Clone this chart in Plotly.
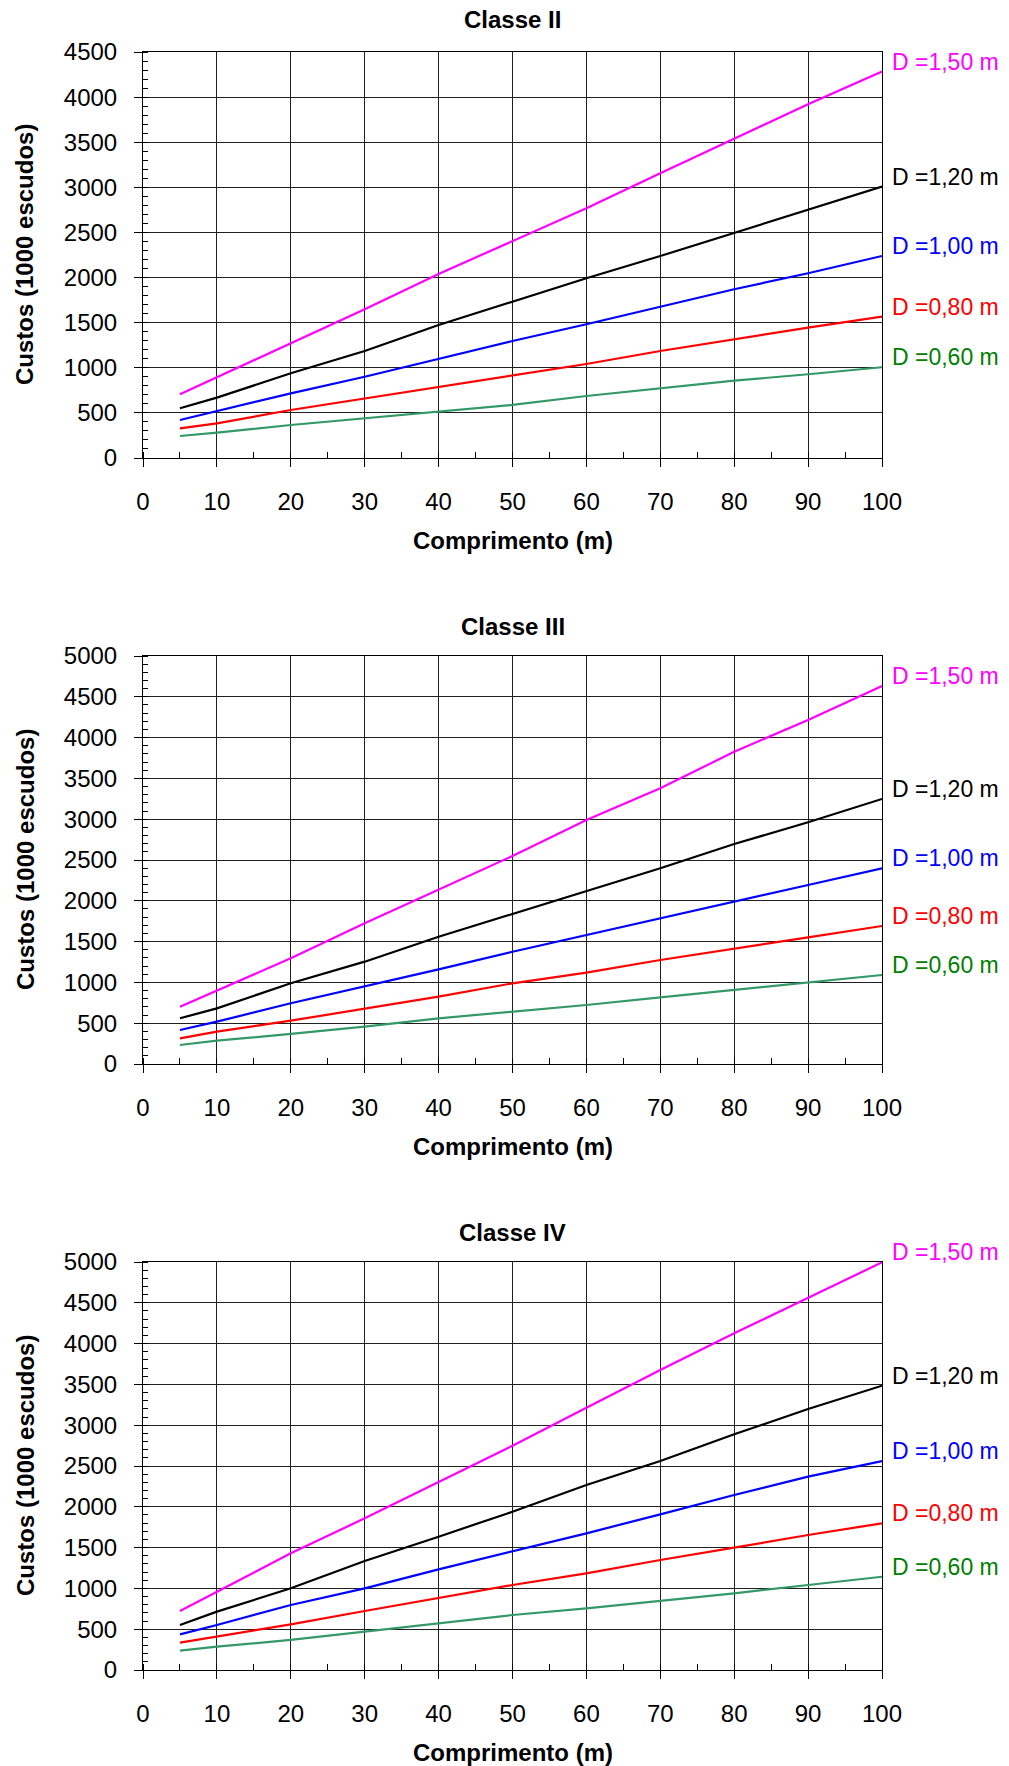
import plotly.graph_objects as go

# ---------------- data ----------------
comprimento = [5, 10, 20, 30, 40, 50, 60, 70, 80, 90, 100]

classes = ["Classe II", "Classe III", "Classe IV"]
y_max = [4500, 5000, 5000]

series_names = ["D =1,50 m", "D =1,20 m", "D =1,00 m", "D =0,80 m", "D =0,60 m"]

classe_ii = [
    [706, 894, 1271, 1648, 2040, 2406, 2768, 3156, 3537, 3921, 4283],
    [551, 669, 939, 1186, 1474, 1733, 1992, 2239, 2498, 2757, 3008],
    [421, 521, 717, 901, 1097, 1297, 1482, 1677, 1870, 2048, 2239],
    [329, 384, 532, 661, 791, 920, 1042, 1186, 1319, 1445, 1567],
    [244, 281, 366, 440, 514, 588, 687, 769, 857, 928, 1006],
]
classe_iii = [
    [702, 898, 1295, 1724, 2141, 2549, 2990, 3378, 3827, 4216, 4632],
    [560, 682, 989, 1254, 1560, 1838, 2112, 2398, 2696, 2962, 3248],
    [417, 519, 744, 948, 1160, 1376, 1581, 1793, 1989, 2194, 2398],
    [315, 396, 531, 682, 825, 989, 1119, 1275, 1409, 1552, 1691],
    [233, 286, 368, 457, 560, 641, 723, 817, 907, 996, 1091],
]
classe_iv = [
    [723, 960, 1430, 1859, 2308, 2749, 3215, 3677, 4126, 4563, 4996],
    [551, 715, 1001, 1336, 1634, 1940, 2267, 2561, 2888, 3199, 3484],
    [437, 551, 797, 1001, 1234, 1450, 1675, 1908, 2145, 2369, 2561],
    [335, 408, 560, 723, 879, 1042, 1185, 1348, 1499, 1654, 1798],
    [237, 286, 368, 469, 572, 674, 756, 846, 940, 1042, 1143],
]
all_data = [classe_ii, classe_iii, classe_iv]

line_colors = ["#FF00FF", "#000000", "#0000FF", "#FF0000", "#339966"]
label_colors = ["#FF00FF", "#000000", "#0000FF", "#FF0000", "#008000"]

x_title = "Comprimento (m)"
y_title = "Custos (1000 escudos)"

# ---------------- layout geometry (pixels) ----------------
W, H = 1009, 1766
x_left, x_right = 143, 882
plot_tops = [52, 656, 1262]
plot_bottoms = [458, 1064, 1670]
title_y = [19, 626, 1232]

FONT = "Liberation Sans, Arial, sans-serif"


def px(v):
    return v / W


def py(v):
    return 1 - v / H


fig = go.Figure()
annotations = []

for i, data in enumerate(all_data):
    xa = "x" if i == 0 else f"x{i+1}"
    ya = "y" if i == 0 else f"y{i+1}"
    for s, vals in enumerate(data):
        fig.add_trace(go.Scatter(
            x=comprimento, y=vals, mode="lines",
            line=dict(color=line_colors[s], width=2.2),
            xaxis=xa, yaxis=ya, showlegend=False, name=series_names[s],
        ))
        annotations.append(dict(
            x=comprimento[-1], y=vals[-1], xref=xa, yref=ya,
            text=series_names[s], showarrow=False,
            xanchor="left", yanchor="middle", xshift=8, yshift=10,
            font=dict(family=FONT, size=23, color=label_colors[s]),
        ))

    axis_common = dict(
        showline=True, linecolor="#000000", linewidth=1, mirror=True,
        showgrid=True, gridcolor="#202020", gridwidth=1,
        zeroline=False,
        ticks="outside", ticklen=8, tickcolor="#000000", tickwidth=1,
        tickfont=dict(family=FONT, size=24, color="#000000"),
    )
    xdict = dict(axis_common,
                 domain=[px(x_left), px(x_right)], range=[0, 100],
                 tickmode="linear", tick0=0, dtick=10,
                 anchor=ya, ticklabelstandoff=14,
                 minor=dict(ticks="inside", ticklen=6, dtick=5, tick0=0,
                            tickcolor="#000000", showgrid=False))
    ydict = dict(axis_common,
                 domain=[py(plot_bottoms[i]), py(plot_tops[i])],
                 range=[0, y_max[i]], tickmode="linear", tick0=0, dtick=500,
                 anchor=xa, ticklabelstandoff=12,
                 minor=dict(ticks="inside", ticklen=5, dtick=100, tick0=0,
                            tickcolor="#000000", showgrid=False))
    if i == 0:
        fig.update_layout(xaxis=xdict, yaxis=ydict)
    else:
        fig.update_layout(**{f"xaxis{i+1}": xdict, f"yaxis{i+1}": ydict})

    # chart title
    annotations.append(dict(
        x=px((x_left + x_right) / 2), y=py(title_y[i]), xref="paper", yref="paper",
        text=f"<b>{classes[i]}</b>", showarrow=False, xanchor="center", yanchor="middle",
        font=dict(family=FONT, size=24, color="#000000"),
    ))
    # x axis title
    annotations.append(dict(
        x=px((x_left + x_right) / 2), y=py(plot_bottoms[i] + 82), xref="paper", yref="paper",
        text=f"<b>{x_title}</b>", showarrow=False, xanchor="center", yanchor="middle",
        font=dict(family=FONT, size=24, color="#000000"),
    ))
    # y axis title
    annotations.append(dict(
        x=px(25), y=py((plot_tops[i] + plot_bottoms[i]) / 2), xref="paper", yref="paper",
        text=f"<b>{y_title}</b>", showarrow=False, textangle=-90,
        xanchor="center", yanchor="middle",
        font=dict(family=FONT, size=24, color="#000000"),
    ))

fig.update_layout(
    width=W, height=H,
    margin=dict(l=0, r=0, t=0, b=0, autoexpand=False),
    paper_bgcolor="#FFFFFF", plot_bgcolor="#FFFFFF",
    annotations=annotations,
    font=dict(family=FONT),
)

fig.write_html(
    "out.html",
    config={"displayModeBar": False},
    post_script="document.body.style.margin='0';document.body.style.overflow='hidden';",
)
